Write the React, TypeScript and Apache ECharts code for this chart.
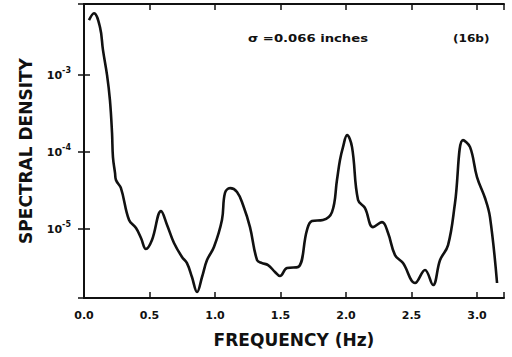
import React, { useEffect, useRef } from "react";
import * as echarts from "echarts";

// Frequency samples (Hz) and spectral density values along the trace
const frequency = [
  0.038, 0.076, 0.122, 0.145, 0.176, 0.198, 0.214, 0.221, 0.237, 0.244,
  0.282, 0.344, 0.397, 0.435, 0.473, 0.519, 0.588, 0.634, 0.687, 0.748,
  0.786, 0.824, 0.863, 0.901, 0.939, 0.992, 1.053, 1.076, 1.115, 1.168,
  1.214, 1.267, 1.321, 1.359, 1.405, 1.458, 1.496, 1.55, 1.634, 1.702,
  1.74, 1.824, 1.893, 1.931, 1.954, 1.977, 2.008, 2.046, 2.092, 2.145,
  2.206, 2.275, 2.321, 2.374, 2.435, 2.527, 2.603, 2.664, 2.718, 2.779,
  2.832, 2.893, 2.947, 3.0, 3.061, 3.099, 3.153,
];
const density = [
  5.18e-3, 6.38e-3, 4.2e-3, 2.11e-3, 1.0e-3, 4.73e-4, 1.77e-4, 8.6e-5, 5.33e-5, 4.33e-5,
  3.4e-5, 1.31e-5, 1.03e-5, 7.64e-6, 5.5e-6, 7.19e-6, 1.71e-5, 1.13e-5, 6.58e-6, 4.33e-6,
  3.61e-6, 2.38e-6, 1.52e-6, 2.38e-6, 3.95e-6, 5.83e-6, 1.31e-5, 2.94e-5, 3.4e-5, 3.03e-5,
  2.05e-5, 1.06e-5, 3.95e-6, 3.61e-6, 3.4e-6, 2.77e-6, 2.45e-6, 3.12e-6, 3.21e-6, 9.7e-6,
  1.27e-5, 1.31e-5, 1.66e-5, 4.33e-5, 7.87e-5, 1.16e-4, 1.66e-4, 1.16e-4, 2.38e-5, 1.87e-5,
  1.06e-5, 1.23e-5, 8.87e-6, 4.59e-6, 3.61e-6, 1.99e-6, 2.94e-6, 1.87e-6, 3.95e-6, 6.19e-6,
  2.18e-5, 1.43e-4, 1.16e-4, 4.73e-5, 2.53e-5, 1.43e-5, 1.99e-6,
];

const xRange = [0, 3.206];
const yRange = [1.27e-6, 8.4e-3];
const xTickStep = 0.5;

const FONT = "'DejaVu Sans', Verdana, sans-serif";
const INK = "#111";

function decadeLabel(v: number): string {
  const e = Math.log10(v);
  const r = Math.round(e);
  if (Math.abs(e - r) > 1e-6) return "";
  return `{b|10}{s|${r}}`;
}

function stepLabel(v: number): string {
  const k = v / xTickStep;
  if (Math.abs(k - Math.round(k)) > 1e-6) return "";
  return v.toFixed(1);
}

export default function App() {
  const ref = useRef<HTMLDivElement>(null);

  useEffect(() => {
    if (!ref.current) return;
    const chart = echarts.init(ref.current, null, { renderer: "svg" });

    const axisLine = { show: true, lineStyle: { color: INK, width: 2 } };
    const axisTick = { show: true, inside: true, length: 6, lineStyle: { color: INK, width: 1.5 } };

    chart.setOption({
      animation: false,
      backgroundColor: "#fff",
      grid: { left: 84, top: 4, right: 8, bottom: 59 },
      xAxis: [
        {
          type: "value",
          min: xRange[0],
          max: xRange[1],
          interval: xTickStep,
          axisLine,
          axisTick,
          splitLine: { show: false },
          axisLabel: {
            formatter: stepLabel,
            margin: 12,
            color: INK,
            fontFamily: FONT,
            fontWeight: "bold",
            fontSize: 11,
          },
          name: "FREQUENCY (Hz)",
          nameLocation: "middle",
          nameGap: 33,
          nameTextStyle: { color: INK, fontFamily: FONT, fontWeight: "bold", fontSize: 17 },
        },
        {
          type: "value",
          position: "top",
          min: xRange[0],
          max: xRange[1],
          interval: xTickStep,
          axisLine,
          axisTick,
          splitLine: { show: false },
          axisLabel: { show: false },
        },
      ],
      yAxis: [
        {
          type: "log",
          min: yRange[0],
          max: yRange[1],
          axisLine,
          axisTick,
          splitLine: { show: false },
          minorTick: { show: false },
          axisLabel: {
            formatter: decadeLabel,
            margin: 13,
            color: INK,
            rich: {
              b: { fontFamily: FONT, fontWeight: "bold", fontSize: 11, color: INK },
              s: {
                fontFamily: FONT,
                fontWeight: "bold",
                fontSize: 8,
                color: INK,
                verticalAlign: "top",
                padding: [0, 0, 9, 0],
              },
            },
          },
          name: "SPECTRAL DENSITY",
          nameLocation: "middle",
          nameGap: 50,
          nameRotate: 90,
          nameTextStyle: { color: INK, fontFamily: FONT, fontWeight: "bold", fontSize: 17 },
        },
        {
          type: "log",
          position: "right",
          min: yRange[0],
          max: yRange[1],
          axisLine,
          axisTick,
          splitLine: { show: false },
          axisLabel: { show: false },
        },
      ],
      graphic: [
        {
          type: "text",
          x: 248,
          y: 38,
          scaleX: 1.2,
          style: {
            text: "σ =0.066 inches",
            fill: INK,
            font: `bold 11px ${FONT}`,
            textVerticalAlign: "middle",
          },
        },
        {
          type: "text",
          x: 453,
          y: 38,
          scaleX: 1.1,
          style: {
            text: "(16b)",
            fill: INK,
            font: `bold 11px ${FONT}`,
            textVerticalAlign: "middle",
          },
        },
      ],
      series: [
        {
          type: "line",
          xAxisIndex: 0,
          yAxisIndex: 0,
          data: frequency.map((f, i) => [f, density[i]]),
          smooth: 0.4,
          showSymbol: false,
          lineStyle: { color: INK, width: 2.6 },
        },
      ],
    });

    return () => chart.dispose();
  }, []);

  return (
    <div
      ref={ref}
      style={{ position: "fixed", left: 0, top: 0, width: 512, height: 357 }}
    />
  );
}
